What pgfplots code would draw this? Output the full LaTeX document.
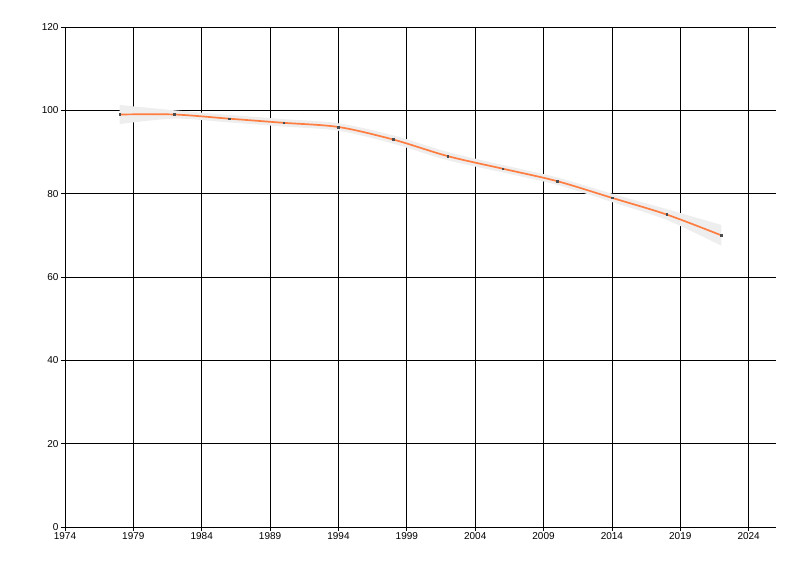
\documentclass[border=0pt]{standalone}
\usepackage{pgfplots}
\pgfplotsset{compat=1.18}
\usepgfplotslibrary{fillbetween}
\usepackage{fontspec}
\setmainfont{Liberation Sans}
\definecolor{lineorange}{RGB}{255,125,64}
\definecolor{bandgray}{RGB}{238,238,238}
\begin{document}
\begin{tikzpicture}
\begin{axis}[
  at={(0,0)}, anchor=south west,
  scale only axis, width=711bp, height=500bp,
  xmin=1974, xmax=2026, ymin=0, ymax=120,
  xtick={1974,1979,...,2024}, ytick={0,20,...,120},
  axis lines*=left,
  grid=major, major grid style={black, line width=0.75bp},
  axis line style={black, line width=0.75bp},
  tick style={black, line width=0.75bp},
  tick align=outside, major tick length=4bp,
  x tick label style={/pgf/number format/1000 sep={}},
  /pgf/number format/assume math mode=true,
  tick label style={font=\fontsize{10bp}{12bp}\selectfont},
  xticklabel style={yshift=2bp},
  yticklabel style={xshift=1bp},
  clip=false,
]
\addplot[name path=up, draw=none, smooth, forget plot] coordinates {
 (1978,101.3) (1982,100.0) (1986,98.9) (1990,97.9) (1994,96.9) (1998,94.0) (2002,90.0) (2006,86.9) (2010,83.9) (2014,80.0) (2018,76.3) (2022,72.5)};
\addplot[name path=lo, draw=none, smooth, forget plot] coordinates {
 (1978,96.7) (1982,98.0) (1986,97.1) (1990,96.1) (1994,95.1) (1998,92.0) (2002,88.0) (2006,85.1) (2010,82.1) (2014,78.0) (2018,73.7) (2022,67.5)};
\addplot[bandgray, forget plot] fill between[of=up and lo];
\addplot[lineorange, line width=1.7bp, smooth] coordinates {
 (1978,99) (1982,99) (1986,98) (1990,97) (1994,96) (1998,93) (2002,89) (2006,86) (2010,83) (2014,79) (2018,75) (2022,70)};
\addplot[only marks, mark=square*, mark size=0.8bp, black!70] coordinates {
 (1978,99) (1982,99) (1986,98) (1990,97) (1994,96) (1998,93) (2002,89) (2006,86) (2010,83) (2014,79) (2018,75) (2022,70)};
\end{axis}
\path[use as bounding box] (-65bp,-49bp) rectangle (735bp,527bp);
\end{tikzpicture}
\end{document}
